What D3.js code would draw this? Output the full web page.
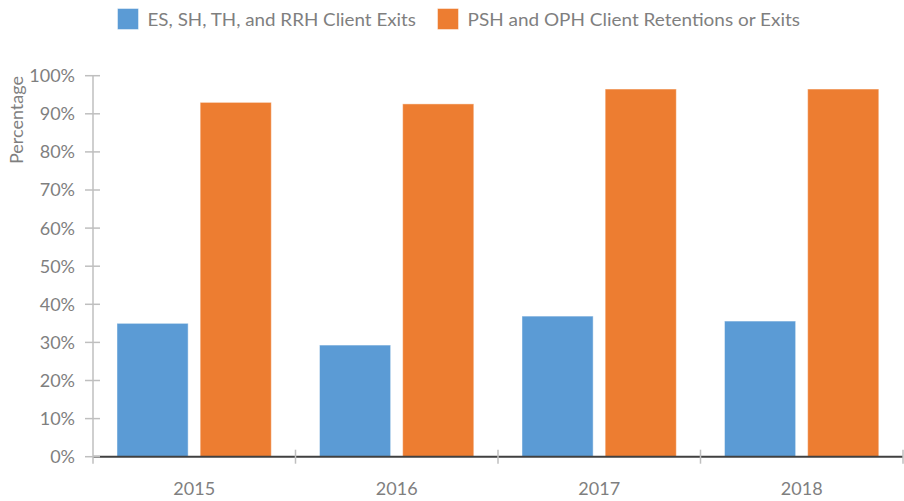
<!DOCTYPE html>
<html>
<head>
<meta charset="utf-8">
<script src="https://cdn.jsdelivr.net/npm/d3@7"></script>
<style>
  html, body { margin: 0; padding: 0; background: #fff; }
  svg { display: block; }
  text { font-family: Lato, "Open Sans", sans-serif; fill: #7f7f7f; }
</style>
</head>
<body>
<svg id="chart" width="904" height="501"></svg>
<script>
const categories = ["2015", "2016", "2017", "2018"];
const seriesNames = ["ES, SH, TH, and RRH Client Exits", "PSH and OPH Client Retentions or Exits"];
const exitsValues = [35.0, 29.3, 36.9, 35.6];
const retentionValues = [93.0, 92.6, 96.5, 96.5];
const yTicks = [0, 10, 20, 30, 40, 50, 60, 70, 80, 90, 100];
const colors = ["#5b9bd5", "#ed7d31"];

(function () {
const series = [exitsValues, retentionValues];
const svg = d3.select("#chart");

const mLeft = 93, mRight = 903, mTop = 75.7, mBottom = 456.7;

const x0 = d3.scaleBand().domain(categories).range([mLeft, mRight]).padding(0);
const bw = x0.bandwidth();
const x1 = d3.scaleBand().domain([0, 1])
  .range([bw * 0.1185, bw * (1 - 0.1195)])
  .paddingInner(0.1446).paddingOuter(0);
const y = d3.scaleLinear().domain([0, 100]).range([mBottom, mTop]);

// bars
const g = svg.append("g");
categories.forEach((c, i) => {
  series.forEach((vals, s) => {
    g.append("rect")
      .attr("x", x0(c) + x1(s))
      .attr("y", y(vals[i]))
      .attr("width", x1.bandwidth())
      .attr("height", y(0) - y(vals[i]))
      .attr("fill", colors[s])
      .attr("stroke", "rgba(255,255,255,0.45)")
      .attr("stroke-width", 1);
  });
});

// bottom dark line
svg.append("line")
  .attr("x1", mLeft).attr("x2", mRight)
  .attr("y1", y(0)).attr("y2", y(0))
  .attr("stroke", "#404040").attr("stroke-width", 2);

// x axis ticks (category boundaries)
const bounds = categories.map(c => x0(c)).concat([mRight]);
svg.selectAll(".xtick").data(bounds.slice(1)).enter().append("line")
  .attr("x1", d => d).attr("x2", d => d)
  .attr("y1", y(0) - 7).attr("y2", y(0) + 7)
  .attr("stroke", "#bfbfbf").attr("stroke-width", 1.5);

// y axis line
svg.append("line")
  .attr("x1", mLeft).attr("x2", mLeft)
  .attr("y1", y(100)).attr("y2", y(0) + 7)
  .attr("stroke", "#bfbfbf").attr("stroke-width", 1.5);

// y ticks
svg.selectAll(".ytick").data(yTicks).enter().append("line")
  .attr("x1", mLeft - 8).attr("x2", mLeft + 7)
  .attr("y1", d => y(d)).attr("y2", d => y(d))
  .attr("stroke", "#bfbfbf").attr("stroke-width", 1.5);

svg.selectAll(".ylab").data(yTicks).enter().append("text")
  .attr("x", 75).attr("y", d => y(d))
  .attr("dy", "0.36em")
  .attr("text-anchor", "end")
  .attr("font-size", 18)
  .text(d => d + "%");

// x labels
svg.selectAll(".xlab").data(categories).enter().append("text")
  .attr("x", d => x0(d) + bw / 2)
  .attr("y", 495)
  .attr("text-anchor", "middle")
  .attr("font-size", 18)
  .text(d => d);

// y title
svg.append("text")
  .attr("transform", "translate(23,120) rotate(-90)")
  .attr("text-anchor", "middle")
  .attr("font-size", 18)
  .text("Percentage");

// legend
const legendX = [117.5, 437.5];
const legendTextEnd = [416, 800];
seriesNames.forEach((name, s) => {
  svg.append("rect")
    .attr("x", legendX[s]).attr("y", 8.5)
    .attr("width", 21).attr("height", 21)
    .attr("fill", colors[s])
    .attr("stroke", "rgba(255,255,255,0.45)");
  const t = svg.append("text")
    .attr("x", legendX[s] + 30)
    .attr("y", 26)
    .attr("font-size", 18)
    .text(name);
  const target = legendTextEnd[s] - (legendX[s] + 30);
  const w = t.node().getComputedTextLength();
  if (Math.abs(w - target) > 3) {
    t.attr("textLength", target).attr("lengthAdjust", "spacingAndGlyphs");
  }
});
})();
</script>
</body>
</html>
